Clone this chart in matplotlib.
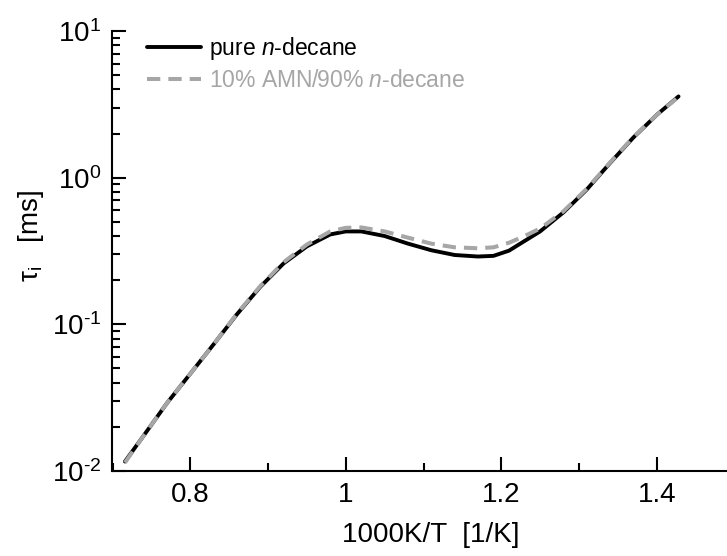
import numpy as np
import matplotlib
matplotlib.use('Agg')
import matplotlib.pyplot as plt
from matplotlib.ticker import LogLocator, MultipleLocator, NullFormatter, FuncFormatter

plt.rcParams['font.family'] = ['Liberation Sans', 'DejaVu Sans']
plt.rcParams['mathtext.fontset'] = 'custom'
plt.rcParams['mathtext.rm'] = 'Liberation Sans'
plt.rcParams['mathtext.it'] = 'Liberation Sans:italic'
plt.rcParams['axes.unicode_minus'] = False

# ignition delay, pure n-decane
x_pure = [0.716, 0.74, 0.77, 0.80, 0.83, 0.86, 0.89, 0.92, 0.95, 0.98, 1.00,
          1.02, 1.05, 1.08, 1.11, 1.14, 1.17, 1.19, 1.21, 1.23, 1.25, 1.28,
          1.31, 1.34, 1.37, 1.40, 1.428]
tau_pure = [0.0116, 0.0174, 0.029, 0.046, 0.073, 0.117, 0.18, 0.26, 0.34, 0.41, 0.43,
            0.43, 0.40, 0.355, 0.32, 0.297, 0.29, 0.293, 0.318, 0.37, 0.43, 0.58,
            0.83, 1.26, 1.88, 2.68, 3.58]

# ignition delay, 10% AMN / 90% n-decane
x_mix = [0.716, 0.74, 0.77, 0.80, 0.83, 0.86, 0.89, 0.92, 0.95, 0.98, 1.00,
         1.02, 1.05, 1.08, 1.11, 1.14, 1.17, 1.19, 1.21, 1.23, 1.25, 1.28,
         1.31, 1.34, 1.37, 1.40, 1.425]
tau_mix = [0.0114, 0.0174, 0.029, 0.046, 0.073, 0.118, 0.182, 0.265, 0.35, 0.43, 0.455,
           0.458, 0.43, 0.39, 0.355, 0.335, 0.33, 0.335, 0.36, 0.40, 0.45, 0.59,
           0.84, 1.27, 1.89, 2.68, 3.45]


def log_label(v, pos):
    e = int(round(np.log10(v)))
    if e < 0:
        return '$10^{\\text{-}%d}$' % (-e)
    return '$10^{%d}$' % e


fig = plt.figure(figsize=(7.27, 5.56), dpi=100)
ax = fig.add_axes([112.5 / 727, 85 / 556, 614.5 / 727, 440 / 556])

ax.plot(x_pure, tau_pure, color='black', lw=2.8, solid_capstyle='round',
        label='pure $n$-decane')
ax.plot(x_mix, tau_mix, color='#a6a6a6', lw=2.9, dashes=(3.3, 2.0),
        label='10% AMN/90% $n$-decane')

ax.set_yscale('log')
ax.set_xlim(0.7, 0.7 + 614.5 / 777.5)
ax.set_ylim(0.01, 10)

ax.xaxis.set_major_locator(MultipleLocator(0.2))
ax.xaxis.set_minor_locator(MultipleLocator(0.1))
ax.xaxis.set_major_formatter(FuncFormatter(
    lambda v, p: '1' if abs(v - 1) < 1e-9 else f'{v:.1f}'))
ax.yaxis.set_major_locator(LogLocator(base=10))
ax.yaxis.set_major_formatter(FuncFormatter(log_label))
ax.yaxis.set_minor_locator(LogLocator(base=10, subs=np.arange(2, 10)))
ax.yaxis.set_minor_formatter(NullFormatter())

for s in ['top', 'right']:
    ax.spines[s].set_visible(False)
for s in ['left', 'bottom']:
    ax.spines[s].set_linewidth(1.5)

ax.tick_params(which='major', direction='in', length=10, width=1.5,
               labelsize=20, pad=8)
ax.tick_params(which='minor', direction='in', length=5.5, width=1.5)

ax.set_xlabel('1000K/T  [1/K]', fontsize=20)
ax.xaxis.set_label_coords((431 - 112.5) / 614.5, -0.115)
ax.set_ylabel('τ$_{\\rm i}$   [ms]', fontsize=20)
ax.yaxis.set_label_coords(-0.108, 0.535)

leg = ax.legend(loc='upper left', bbox_to_anchor=(0.056, 0.99), frameon=False,
                fontsize=16.5, handlelength=2.35, handletextpad=0.35,
                labelspacing=0.3, borderpad=0, borderaxespad=0)
leg.get_texts()[1].set_color('#a6a6a6')

fig.savefig('out.png', dpi=100)
